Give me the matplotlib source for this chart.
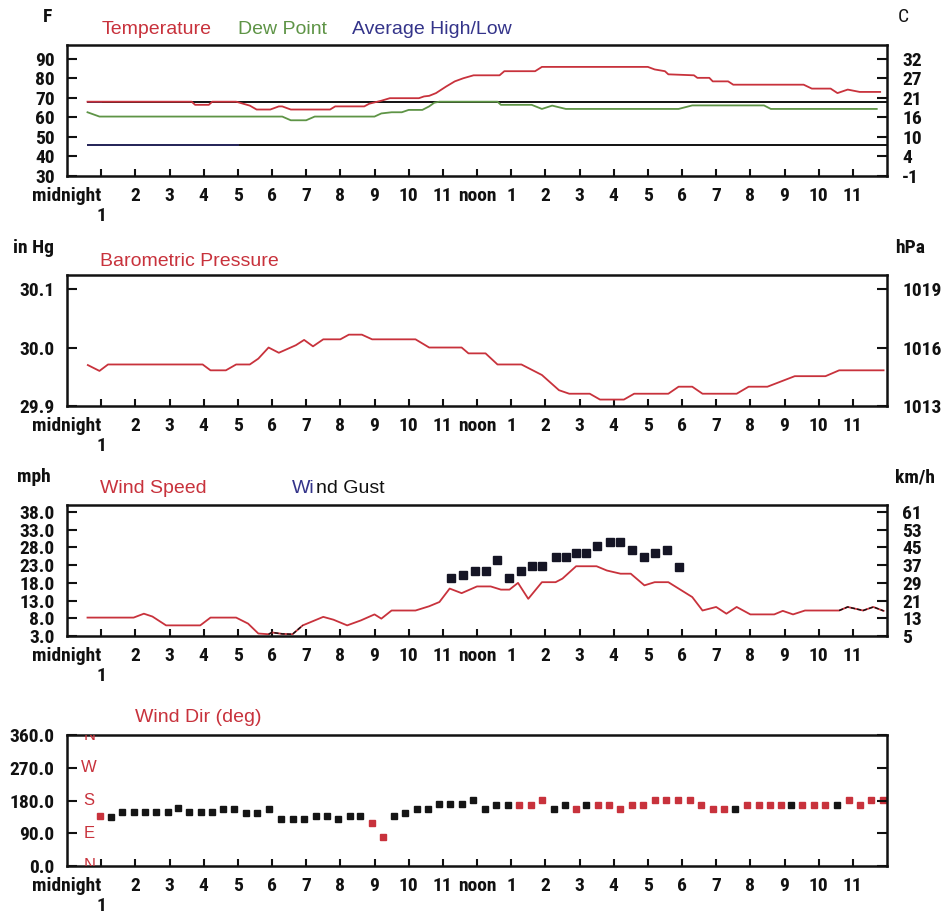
import matplotlib
matplotlib.use("Agg")
import matplotlib.pyplot as plt
from matplotlib import font_manager as fm

_bold_ok = {}
for _f in fm.fontManager.ttflist:
    w = _f.weight if isinstance(_f.weight, int) else (700 if str(_f.weight) == 'bold' else 400)
    if w >= 600 and _f.style == 'normal':
        _bold_ok[_f.name] = True
_prefs = ['Liberation Sans Narrow', 'Arial Narrow', 'Archivo Narrow', 'Roboto Condensed',
          'PT Sans Narrow', 'Fira Sans Condensed', 'IBM Plex Sans Condensed',
          'Barlow Semi Condensed', 'Asap Condensed', 'Encode Sans Condensed',
          'Pragati Narrow', 'Liberation Sans']
NARROW_NAME = next((n for n in _prefs if n in _bold_ok), 'DejaVu Sans')
NARROW = [NARROW_NAME, 'DejaVu Sans']
REG = ['Liberation Sans', 'DejaVu Sans']
TICK_SIZE = 12.5 if NARROW_NAME in ('Liberation Sans', 'DejaVu Sans') else 14

# ---------------- data ----------------
# Temperature (F)
temp_hours = [0.6, 3.65, 3.75, 4.15, 4.25, 4.95, 5.35, 5.55, 5.95, 6.2, 6.3, 6.55, 7.7, 7.85,
              8.7, 8.85, 9.2, 9.45, 10.3, 10.45, 10.6, 10.8, 11.1, 11.35, 11.6, 11.9, 12.66,
              12.8, 13.7, 13.9, 17.0, 17.2, 17.5, 17.6, 18.35, 18.45, 18.8, 18.9, 19.35,
              19.5, 21.56, 21.8, 22.35, 22.55, 22.85, 23.2, 23.8]
temp_f = [68, 68, 66.4, 66.4, 68, 68, 66, 64, 64, 65.6, 65.6, 64, 64, 65.6,
          65.6, 67, 68.5, 69.8, 69.8, 70.7, 71, 72.4, 75.8, 78.4, 80, 81.5, 81.5,
          83.6, 83.6, 85.8, 85.8, 84.5, 83.6, 82, 81.5, 80.2, 80.2, 78.4, 78.4,
          76.7, 76.7, 74.7, 74.7, 72.4, 74.2, 73, 73]

dew_hours = [0.6, 0.95, 6.3, 6.55, 7.0, 7.25, 9.0, 9.2, 9.5, 9.8, 10.0, 10.4, 10.6, 10.75,
             10.9, 12.6, 12.7, 13.6, 13.9, 14.2, 14.6, 17.9, 18.3, 20.4, 20.6, 23.7]
dew_f = [62.6, 60.4, 60.4, 58.5, 58.5, 60.4, 60.4, 62, 62.6, 62.6, 63.8, 63.8, 65.6, 67.5,
         68, 68, 66.4, 66.4, 64.3, 66, 64.3, 64.3, 66.1, 66.1, 64.3, 64.3]

avg_hours = [0.6, 24.0]
avg_high_f = 68
avg_low_f = 46

temp_left_ticks = [30, 40, 50, 60, 70, 80, 90]
temp_right_labels = ['-1', '4', '10', '16', '21', '27', '32']

# Barometric pressure (in Hg)
pres_hours = [0.61, 0.95, 1.2, 3.97, 4.2, 4.65, 4.95, 5.35, 5.6, 5.9, 6.2, 6.7, 6.94, 7.2,
              7.5, 8.0, 8.25, 8.63, 8.93, 10.2, 10.6, 11.55, 11.75, 12.25, 12.6, 13.3,
              13.9, 14.4, 14.7, 15.3, 15.6, 16.3, 16.6, 17.6, 17.9, 18.3, 18.6, 19.6,
              19.95, 20.5, 21.3, 22.2, 22.6, 23.9]
pres_inhg = [29.970, 29.960, 29.971, 29.971, 29.961, 29.961, 29.971, 29.971, 29.981, 30.0,
             29.991, 30.004, 30.013, 30.002, 30.014, 30.014, 30.022, 30.022, 30.014, 30.014,
             30.0, 30.0, 29.99, 29.99, 29.971, 29.971, 29.953, 29.927, 29.921, 29.921,
             29.911, 29.911, 29.921, 29.921, 29.933, 29.933, 29.921, 29.921, 29.933, 29.933,
             29.951, 29.951, 29.961, 29.961]
pres_left_ticks = [29.9, 30.0, 30.1]
pres_left_labels = ['29.9', '30.0', '30.1']
pres_right_labels = ['1013', '1016', '1019']

# Wind speed (mph)
wind_hours = [0.6, 1.95, 2.25, 2.5, 2.9, 3.9, 4.2, 4.95, 5.3, 5.6, 5.9, 6.0, 6.3, 6.6, 6.9,
              7.5, 7.8, 8.2, 8.6, 9.0, 9.2, 9.5, 10.2, 10.6, 10.9, 11.2, 11.55, 12.0, 12.4,
              12.7, 12.95, 13.2, 13.5, 13.9, 14.3, 14.5, 14.9, 15.5, 15.8, 16.2, 16.5, 16.9,
              17.2, 17.6, 17.9, 18.3, 18.6, 19.0, 19.3, 19.6, 20.0, 20.7, 20.95, 21.25, 21.6,
              22.6, 22.85, 23.3, 23.6, 23.9]
wind_mph = [8.2, 8.2, 9.3, 8.5, 6.0, 6.0, 8.2, 8.2, 6.5, 3.7, 3.5, 4.0, 3.6, 3.5, 6.0,
            8.4, 7.6, 6.0, 7.4, 9.1, 7.9, 10.2, 10.2, 11.4, 12.6, 16.4, 15.1, 17.0, 17.0,
            16.1, 16.1, 18.0, 13.5, 18.2, 18.2, 19.2, 22.7, 22.7, 21.5, 20.6, 20.6, 17.3,
            18.2, 18.2, 16.4, 14.0, 10.2, 11.2, 9.3, 11.2, 9.1, 9.1, 10.1, 9.1, 10.2,
            10.2, 11.2, 10.2, 11.2, 10.1]
gust_hours = [11.25, 11.6, 11.93, 12.25, 12.6, 12.95, 13.3, 13.6, 13.9, 14.3, 14.6, 14.9,
              15.2, 15.5, 15.9, 16.2, 16.55, 16.9, 17.2, 17.55, 17.9]
gust_mph = [19.4, 20.3, 21.5, 21.5, 24.4, 19.5, 21.5, 22.7, 22.7, 25.3, 25.3, 26.4,
            26.4, 28.4, 29.5, 29.5, 27.4, 25.3, 26.5, 27.4, 22.5]
wind_left_ticks = [3, 8, 13, 18, 23, 28, 33, 38]
wind_left_labels = ['3.0', '8.0', '13.0', '18.0', '23.0', '28.0', '33.0', '38.0']
wind_right_labels = ['5', '13', '21', '29', '37', '45', '53', '61']

# Wind direction (deg)
dir_hours = [0.97, 1.3, 1.62, 1.95, 2.27, 2.61, 2.95, 3.24, 3.58, 3.92, 4.23, 4.57, 4.89,
             5.23, 5.57, 5.91, 6.25, 6.6, 6.94, 7.28, 7.62, 7.94, 8.27, 8.59, 8.93, 9.25,
             9.56, 9.9, 10.24, 10.56, 10.89, 11.21, 11.55, 11.89, 12.24, 12.56, 12.9, 13.23,
             13.57, 13.91, 14.25, 14.57, 14.9, 15.2, 15.54, 15.86, 16.2, 16.53, 16.87, 17.2,
             17.54, 17.88, 18.22, 18.56, 18.9, 19.24, 19.56, 19.9, 20.24, 20.57, 20.9, 21.2,
             21.52, 21.86, 22.2, 22.54, 22.88, 23.2, 23.53, 23.88]
dir_deg = [138, 135, 149, 149, 149, 149, 149, 160, 149, 149, 149, 158, 158,
           147, 147, 158, 128, 128, 128, 138, 138, 128, 138, 138, 117, 80,
           138, 147, 158, 158, 170, 170, 170, 181, 158, 169, 169, 169,
           169, 181, 158, 169, 158, 169, 169, 169, 158, 169, 169, 181,
           181, 181, 181, 169, 158, 158, 158, 169, 169, 169, 169, 169,
           169, 169, 169, 169, 181, 169, 181, 181]
dir_flag = [1, 0, 0, 0, 0, 0, 0, 0, 0, 0, 0, 0, 0,
            0, 0, 0, 0, 0, 0, 0, 0, 0, 0, 0, 1, 1,
            0, 0, 0, 0, 0, 0, 0, 0, 0, 0, 0, 1,
            1, 1, 0, 0, 1, 0, 1, 1, 1, 1, 1, 1,
            1, 1, 1, 1, 1, 1, 0, 1, 1, 1, 1, 0,
            1, 1, 1, 0, 1, 1, 1, 1]
dir_left_ticks = [0, 90, 180, 270, 360]
dir_left_labels = ['0.0', '90.0', '180.0', '270.0', '360.0']
compass_deg = [360, 270, 180, 90, 0]
compass_labels = ['N', 'W', 'S', 'E', 'N']

hour_ticks = list(range(1, 24))
hour_labels = ['1'] + [str(h) for h in range(2, 12)] + ['noon'] + [str(h) for h in range(1, 12)]

# ---------------- style ----------------
W, H = 943, 914
RED = '#c8323c'
GREEN = '#5e9446'
NAVY = '#34348a'
TICKFONT = dict(family=NARROW, weight='bold', size=TICK_SIZE)

fig = plt.figure(figsize=(W / 100, H / 100), dpi=100)
fig.patch.set_facecolor('white')


def P(x, y):
    return x / W, 1 - y / H


def make_axes(top, bottom):
    l, b = 67 / W, 1 - bottom / H
    ax = fig.add_axes([l, b, 820 / W, (bottom - top) / H])
    for s in ax.spines.values():
        s.set_linewidth(1.8)
        s.set_color('#111111')
    ax.set_xlim(0, 24)
    ax.set_xticks(hour_ticks)
    ax.set_xticklabels(hour_labels, fontdict=TICKFONT)
    ax.set_xticks([0], minor=True)
    ax.set_xticklabels(['midnight'], minor=True, fontdict=TICKFONT)
    ax.tick_params(axis='x', which='major', direction='in', length=5, width=1.5, pad=8, colors='#111111')
    ax.tick_params(axis='x', which='minor', length=0, pad=8, colors='#111111')
    ax.tick_params(axis='y', direction='in', length=7, width=1.5, pad=9, colors='#111111')
    ax.xaxis.get_major_ticks()[0].set_pad(22)
    return ax


def right_axis(ax, ticks, labels):
    r = ax.twinx()
    r.set_ylim(ax.get_ylim())
    r.set_yticks(ticks)
    r.set_yticklabels(labels, fontdict=TICKFONT)
    r.tick_params(axis='y', direction='in', length=7, width=1.5, pad=11, colors='#111111')
    for s in r.spines.values():
        s.set_visible(False)
    return r


def label(x, y, s, color='#111111', bold=True, ha='left'):
    return fig.text(*P(x, y), s, color=color, ha=ha, va='center', family=NARROW,
                    weight='bold' if bold else 'normal', size=TICK_SIZE)


def title(x, y, s, color):
    return fig.text(*P(x, y), s, color=color, ha='left', va='center', family=REG, size=14)


# ---- Temperature ----
ax1 = make_axes(45, 176)
ax1.set_ylim(30, 97)
ax1.set_yticks(temp_left_ticks)
ax1.set_yticklabels([str(v) for v in temp_left_ticks], fontdict=TICKFONT)
ax1.plot(avg_hours, [avg_high_f] * 2, color='#111111', lw=1.4)
ax1.plot(avg_hours, [avg_low_f] * 2, color='#111111', lw=1.4)
ax1.plot(avg_hours[:1] + [1.0], [avg_high_f] * 2, color=NAVY, lw=1.4, alpha=0.6)
ax1.plot(avg_hours[:1] + [5.0], [avg_low_f] * 2, color=NAVY, lw=1.4, alpha=0.6)
ax1.plot(dew_hours, dew_f, color=GREEN, lw=1.3)
ax1.plot(temp_hours, temp_f, color=RED, lw=1.3)
right_axis(ax1, temp_left_ticks, temp_right_labels)
label(48, 17, 'F', ha='center')
label(903, 17, 'C', ha='center', bold=False)
title(102, 30, 'Temperature', RED)
title(238, 30, 'Dew Point', GREEN)
title(352, 30, 'Average High/Low', NAVY)

# ---- Pressure ----
ax2 = make_axes(275, 406)
ax2.set_ylim(29.9, 30.124)
ax2.set_yticks(pres_left_ticks)
ax2.set_yticklabels(pres_left_labels, fontdict=TICKFONT)
ax2.plot(pres_hours, pres_inhg, color=RED, lw=1.3)
right_axis(ax2, pres_left_ticks, pres_right_labels)
label(13, 248, 'in Hg')
label(895, 248, 'hPa')
title(100, 262, 'Barometric Pressure', RED)

# ---- Wind speed ----
ax3 = make_axes(505, 636)
ax3.set_ylim(3, 40)
ax3.set_yticks(wind_left_ticks)
ax3.set_yticklabels(wind_left_labels, fontdict=TICKFONT)
ax3.plot(wind_hours, wind_mph, color=RED, lw=1.3)
i0, i1 = wind_hours.index(5.9), wind_hours.index(6.9)
ax3.plot(wind_hours[i0:i1 + 1], wind_mph[i0:i1 + 1], color='#111111', lw=1.0, ls=(0, (3, 1.5)))
j0 = wind_hours.index(22.6)
ax3.plot(wind_hours[j0:], wind_mph[j0:], color='#111111', lw=1.0, ls=(0, (3, 1.5)))
ax3.plot(gust_hours, gust_mph, ls='none', marker='s', ms=5.5, color='#151525')
right_axis(ax3, wind_left_ticks, wind_right_labels)
label(17, 477, 'mph')
label(895, 477, 'km/h')
title(100, 488, 'Wind Speed', RED)
wi = title(292, 488, 'Wi', NAVY)
fig.canvas.draw()
_ext = wi.get_window_extent()
fig.text(_ext.x1 / W + 0.001, P(0, 488)[1], 'nd Gust', color='#111111', ha='left',
         va='center', family=REG, size=14)

# ---- Wind direction ----
ax4 = make_axes(735, 866)
ax4.set_ylim(0, 360)
ax4.set_yticks(dir_left_ticks)
ax4.set_yticklabels(dir_left_labels, fontdict=TICKFONT)
for h, d, f in zip(dir_hours, dir_deg, dir_flag):
    ax4.plot([h], [d], ls='none', marker='s', ms=4.5, color=RED if f else '#151515')
for d, s in zip(compass_deg, compass_labels):
    ax4.text(0.65, d, s, color=RED, ha='center', va='center', family=REG, size=12, clip_on=True)
right_axis(ax4, dir_left_ticks, [''] * 5)
title(135, 718, 'Wind Dir (deg)', RED)

fig.savefig('out.png', dpi=100, facecolor='white')
